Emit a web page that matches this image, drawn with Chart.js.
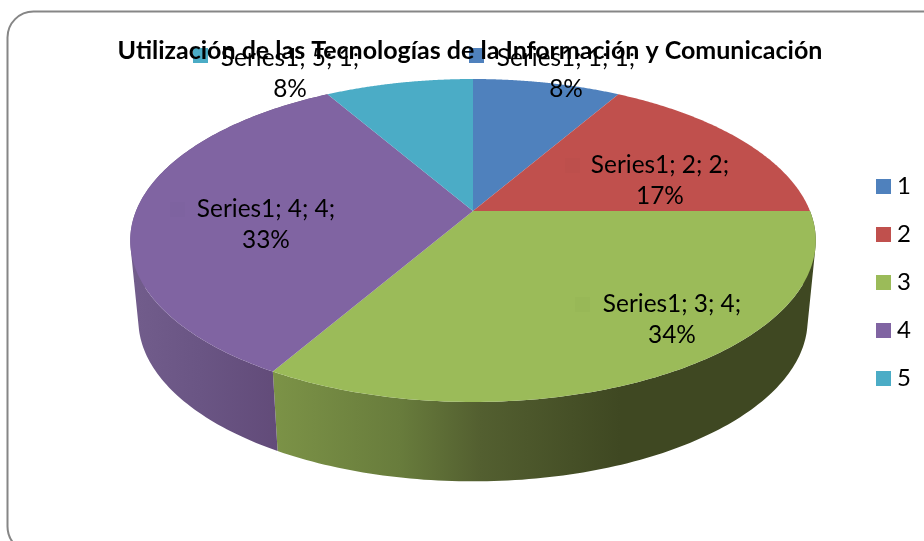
<!DOCTYPE html>
<html>
<head>
<meta charset="utf-8">
<script src="https://cdn.jsdelivr.net/npm/chart.js@4"></script>
<style>html,body{margin:0;padding:0;background:#fff}canvas{display:block}</style>
</head>
<body>
<canvas id="c" width="924" height="541"></canvas>
<script>
const chartTitle = 'Utilización de las Tecnologías de la Información y Comunicación';
const seriesName = 'Series1';
const categories = ['1', '2', '3', '4', '5'];
const values = [1, 2, 4, 4, 1];
const percentLabels = ['8%', '17%', '34%', '33%', '8%'];
const sliceColors = ['#4F81BD', '#C0504D', '#9BBB59', '#8064A2', '#4BACC6'];
const keyColors = ['#4F81BD', '#BD4F4C', '#98B857', '#7E63A0', '#4BACC6'];

const FONT = 'Lato, Carlito, sans-serif';
// perspective projection of the pie disc: top ring and bottom ring
const view = {cx: 473, k: 0.1827, top: {cy: 211, R: 337, S: 156.1}, bottom: {cy: 290.5, R: 329, S: 156}};
// label box placement: text centre x, first line centre y, key square left edge
const labelPlace = [
  {x: 566, y: 58, key: 469},
  {x: 660, y: 165, key: 565},
  {x: 672, y: 304, key: 575},
  {x: 266, y: 209, key: 170},
  {x: 290, y: 58, key: 193}
];
const wallStops = {
  2: [[272, '#7C9347'], [400, '#687C3C'], [480, '#535F30'], [620, '#3F4822'], [816, '#3F4822']],
  3: [[130, '#725D8C'], [200, '#6A5584'], [278, '#624B79']]
};

function project(theta, ring) {
  const u = Math.sin(theta), v = -Math.cos(theta);
  const w = 1 - view.k * v;
  return {x: view.cx + ring.R * u / w, y: ring.cy + ring.S * v / w};
}
function clockAngle(a) { return a + Math.PI / 2; } // chart angle -> angle from 12 o'clock

function keyCanvas(color) {
  const c = document.createElement('canvas');
  c.width = 15; c.height = 15;
  const x = c.getContext('2d');
  x.fillStyle = color;
  x.fillRect(0, 0, 15, 15);
  return c;
}

function addQuad(ctx, pts) {
  let area = 0;
  pts.forEach((p, i) => {
    const q = pts[(i + 1) % pts.length];
    area += p.x * q.y - q.x * p.y;
  });
  const list = area < 0 ? pts.slice().reverse() : pts;
  list.forEach((p, i) => i ? ctx.lineTo(p.x, p.y) : ctx.moveTo(p.x, p.y));
  ctx.closePath();
}

const pie3d = {
  id: 'pie3d',
  beforeDraw(chart) {
    const ctx = chart.ctx;
    ctx.save();
    ctx.fillStyle = '#fff';
    ctx.fillRect(0, 0, chart.width, chart.height);
    ctx.strokeStyle = '#868686';
    ctx.lineWidth = 2;
    ctx.beginPath();
    ctx.roundRect(7.5, 11.5, 950, 541, 26);
    ctx.stroke();
    // keys that sit outside the pie lie beneath the title
    [0, 4].forEach(i => {
      ctx.fillStyle = keyColors[i];
      ctx.fillRect(labelPlace[i].key, 48, 15, 15);
    });
    ctx.restore();
  },
  beforeDatasetDraw(chart, args) {
    const ctx = chart.ctx;
    const arcs = args.meta.data;
    ctx.save();
    // side wall: one path of same-wound quads, so no seams
    arcs.forEach((arc, i) => {
      const stops = wallStops[i];
      if (!stops) return;
      const a = clockAngle(arc.startAngle), b = clockAngle(arc.endAngle);
      const g = ctx.createLinearGradient(stops[0][0], 0, stops[stops.length - 1][0], 0);
      const span = stops[stops.length - 1][0] - stops[0][0];
      stops.forEach(s => g.addColorStop((s[0] - stops[0][0]) / span, s[1]));
      ctx.fillStyle = g;
      ctx.beginPath();
      const n = 120;
      for (let j = 0; j < n; j++) {
        const t0 = a + (b - a) * j / n, t1 = a + (b - a) * (j + 1) / n;
        addQuad(ctx, [project(t0, view.top), project(t1, view.top),
                      project(t1, view.bottom), project(t0, view.bottom)]);
      }
      ctx.fill();
    });
    // top face
    arcs.forEach(arc => {
      const a = clockAngle(arc.startAngle), b = clockAngle(arc.endAngle);
      ctx.fillStyle = arc.options.backgroundColor;
      ctx.beginPath();
      ctx.moveTo(view.cx, view.top.cy);
      const n = 120;
      for (let j = 0; j <= n; j++) {
        const p = project(a + (b - a) * j / n, view.top);
        ctx.lineTo(p.x, p.y);
      }
      ctx.closePath();
      ctx.fill();
    });
    ctx.restore();
    return false;
  },
  afterDatasetsDraw(chart) {
    const ctx = chart.ctx;
    ctx.save();
    ctx.textAlign = 'center';
    ctx.textBaseline = 'middle';
    ctx.font = '24.4px ' + FONT;
    categories.forEach((cat, i) => {
      const p = labelPlace[i];
      if (i > 0 && i < 4) {
        ctx.fillStyle = keyColors[i];
        ctx.fillRect(p.key, p.y - 7, 15, 15);
      }
      ctx.fillStyle = '#000';
      ctx.fillText(`${seriesName}; ${cat}; ${values[i]};`, p.x, p.y);
      ctx.fillText(percentLabels[i], p.x, p.y + 31);
    });
    ctx.restore();
  }
};

new Chart(document.getElementById('c'), {
  type: 'pie',
  data: {
    labels: categories,
    datasets: [{label: seriesName, data: values, backgroundColor: sliceColors, borderWidth: 0}]
  },
  plugins: [pie3d],
  options: {
    responsive: false,
    animation: false,
    layout: {padding: {left: 19, top: 36, right: 3, bottom: 12}},
    plugins: {
      tooltip: {enabled: false},
      title: {
        display: true,
        text: chartTitle,
        color: '#000',
        font: {family: FONT, size: 25, weight: 'bold'},
        padding: {top: 0, bottom: 0}
      },
      legend: {
        position: 'right',
        labels: {
          color: '#000',
          font: {family: FONT, size: 24},
          usePointStyle: true,
          pointStyleWidth: 3,
          padding: 24,
          generateLabels(chart) {
            return Chart.overrides.pie.plugins.legend.labels.generateLabels(chart)
              .map((item, i) => Object.assign(item, {pointStyle: keyCanvas(sliceColors[i])}));
          }
        }
      }
    }
  }
});
</script>
</body>
</html>
